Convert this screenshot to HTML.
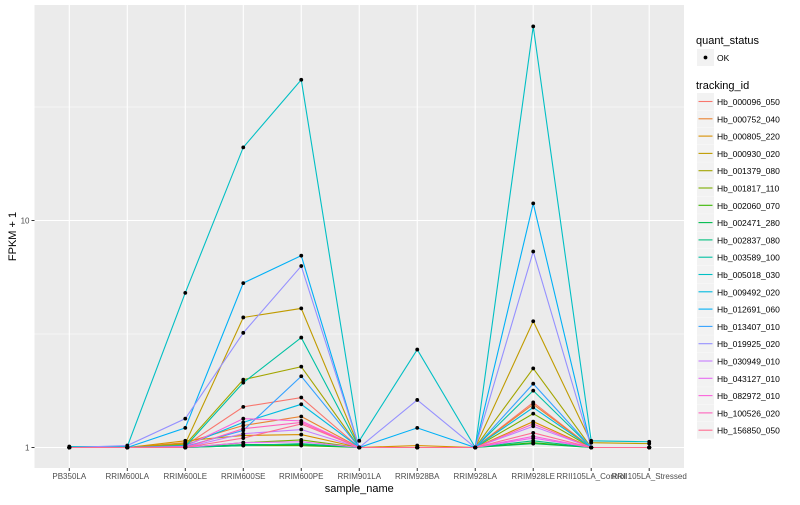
<!DOCTYPE html>
<html><head><meta charset="utf-8"><style>
body{margin:0;background:#fff;}
svg text{font-family:"Liberation Sans",sans-serif;}
</style></head><body>
<svg id="chart" width="800" height="500" xmlns="http://www.w3.org/2000/svg">
<rect width="800" height="500" fill="#fff"/>
<g id="plot"></g>
</svg>
<script>
const samples=["PB350LA","RRIM600LA","RRIM600LE","RRIM600SE","RRIM600PE","RRIM901LA","RRIM928BA","RRIM928LA","RRIM928LE","RRII105LA_Control","RRII105LA_Stressed"];
const trackingIds=["Hb_000096_050","Hb_000752_040","Hb_000805_220","Hb_000930_020","Hb_001379_080","Hb_001817_110","Hb_002060_070","Hb_002471_280","Hb_002837_080","Hb_003589_100","Hb_005018_030","Hb_009492_020","Hb_012691_060","Hb_013407_010","Hb_019925_020","Hb_030949_010","Hb_043127_010","Hb_082972_010","Hb_100526_020","Hb_156850_050"];
const s0=[1,1,1.02,1.51,1.66,1,1,1,1.58,1,1];
const s1=[1,1,1.05,1.25,1.37,1,1,1,1.55,1,1];
const s2=[1,1,1.07,1.13,1.14,1,1.02,1,1.3,1,1];
const s3=[1,1,1.04,3.74,4.1,1,1,1,3.6,1.05,1.04];
const s4=[1,1,1.03,1.99,2.27,1,1,1,2.23,1,1];
const s5=[1,1,1,1.05,1.08,1,1,1,1.41,1,1];
const s6=[1,1,1,1.02,1.02,1,1,1,1.05,1,1];
const s7=[1,1,1,1.03,1.03,1,1,1,1.04,1,1];
const s8=[1,1,1,1.02,1.04,1,1,1,1.07,1,1];
const s9=[1,1,1.01,1.93,3.05,1,1,1,1.78,1,1];
const s10=[1.01,1.01,4.8,21,41.7,1.07,2.7,1,71.6,1.07,1.06];
const s11=[1,1,1.02,1.29,1.55,1,1,1,1.5,1,1];
const s12=[1,1,1.22,5.3,7.0,1,1.22,1,11.9,1,1];
const s13=[1,1,1.01,1.19,2.06,1,1,1,1.91,1,1];
const s14=[1,1.02,1.34,3.2,6.3,1,1.62,1,7.3,1,1];
const s15=[1,1,1,1.15,1.2,1,1,1,1.24,1,1];
const s16=[1,1,1,1.05,1.06,1,1,1,1.1,1,1];
const s17=[1,1,1.01,1.34,1.31,1,1,1,1.12,1,1];
const s18=[1,1,1,1.21,1.29,1,1,1,1.27,1,1];
const s19=[1,1,1,1.1,1.27,1,1,1,1.16,1,1];
const series=[s0,s1,s2,s3,s4,s5,s6,s7,s8,s9,s10,s11,s12,s13,s14,s15,s16,s17,s18,s19];
const colors=["#F8766D","#EA8331","#D89000","#C09B00","#A3A500","#7CAE00","#39B600","#00BB4E","#00BF7D","#00C1A3","#00BFC4","#00BAE0","#00B0F6","#35A2FF","#9590FF","#C77CFF","#E76BF3","#FA62DB","#FF62BC","#FF6C91"];
const yTicks=[1,10];
const yTickLabels=["1","10"];

const NS="http://www.w3.org/2000/svg";
const g=document.getElementById('plot');
function el(t,a,p){const e=document.createElementNS(NS,t);for(const k in a)e.setAttribute(k,a[k]);(p||g).appendChild(e);return e;}
const PL=34.5,PR=684,PT=5,PB=468;
const step=(PR-PL)/(samples.length-1+1.2);
function x(i){return PL+step*(0.6+i);}
function y(v){return 447.5-227*Math.log10(v);}

const panel=el('rect',{x:PL,y:PT,width:PR-PL,height:PB-PT,fill:'#EBEBEB'});


// minor y grid
[Math.sqrt(10),Math.sqrt(1000)].forEach(v=>{
  if(y(v)>PT){const l=el('line',{x1:PL,x2:PR,y1:y(v),y2:y(v),stroke:'#fff','stroke-width':0.5});
  
  }
});
yTicks.forEach((v,i)=>{
  const l=el('line',{x1:PL,x2:PR,y1:y(v),y2:y(v),stroke:'#fff','stroke-width':1.1});
  
  
  const t=el('line',{x1:PL-3,x2:PL,y1:y(v),y2:y(v),stroke:'#333','stroke-width':1});
  
  
  const tx=el('text',{x:PL-5,y:y(v)+3,'font-size':8,fill:'#4D4D4D','text-anchor':'end'});
  tx.textContent=yTickLabels[i];
  
  
});
samples.forEach((s,i)=>{
  const l=el('line',{x1:x(i),x2:x(i),y1:PT,y2:PB,stroke:'#fff','stroke-width':1.1});
  
  
  const t=el('line',{x1:x(i),x2:x(i),y1:PB,y2:PB+3,stroke:'#333','stroke-width':1});
  
  
  const tx=el('text',{x:x(i),y:PB+11,'font-size':8,fill:'#4D4D4D','text-anchor':'middle'});
  tx.textContent=s;
  
  
});
series.forEach((d,k)=>{
  const p=el('polyline',{points:d.map((v,i)=>x(i)+','+y(v)).join(' '),fill:'none',stroke:colors[k],'stroke-width':1.1});
  
  
});
series.forEach((d,k)=>{
  d.forEach((v,i)=>{
    const c=el('circle',{cx:x(i),cy:y(v),r:1.9,fill:'#000'});
    
    
  });
});
const yt=el('text',{x:0,y:0,'font-size':11,fill:'#000','text-anchor':'middle',transform:'translate(16,'+((PT+PB)/2)+') rotate(-90)'});
yt.textContent='FPKM + 1';


const xt=el('text',{x:(PL+PR)/2,y:492,'font-size':11,fill:'#000','text-anchor':'middle'});
xt.textContent='sample_name';


// legend
const lq=el('text',{x:696,y:44,'font-size':11,fill:'#000'});
lq.textContent='quant_status';


const kb=el('rect',{x:697,y:49,width:17,height:17,fill:'#F2F2F2'});


const kd=el('circle',{cx:705.5,cy:57.5,r:1.9,fill:'#000'});


const ko=el('text',{x:717,y:61,'font-size':8.5,fill:'#000'});
ko.textContent='OK';


const lt=el('text',{x:696,y:89,'font-size':11,fill:'#000'});
lt.textContent='tracking_id';


trackingIds.forEach((id,k)=>{
  const yy=93+k*17.3;
  const r=el('rect',{x:697,y:yy,width:17,height:17,fill:'#F2F2F2'});
  
  
  const l=el('line',{x1:698.5,x2:712.5,y1:yy+8.5,y2:yy+8.5,stroke:colors[k],'stroke-width':1.1});
  
  
  const t=el('text',{x:717,y:yy+12,'font-size':8.5,fill:'#000'});
  t.textContent=id;
  
  
});
</script>
</body></html>
